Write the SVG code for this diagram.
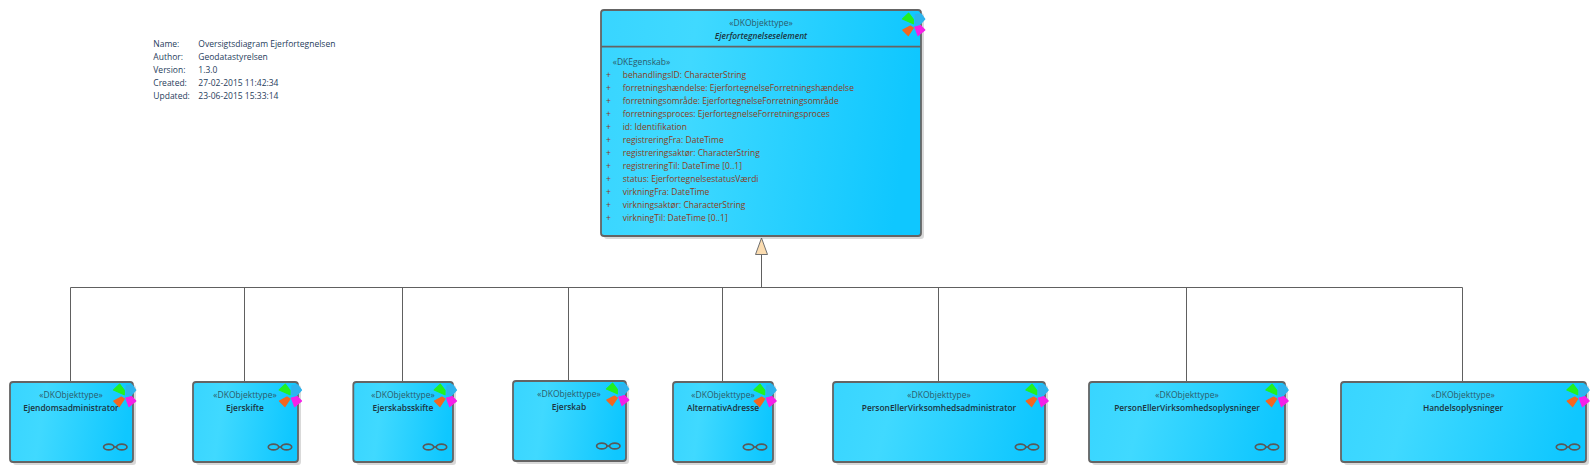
<svg xmlns="http://www.w3.org/2000/svg" width="1596" height="472" viewBox="0 0 1596 472">
<style>
text{font-family:"Open Sans","Liberation Sans",sans-serif;font-size:8.5px}
.box{fill:url(#g);stroke:#646464;stroke-width:1.8}
.sh{fill:#000;fill-opacity:.15}
.div{stroke:#646464;stroke-width:1.8}
.st{fill:#2c5a6a;text-anchor:middle}
.ti{fill:#1c3440;font-weight:600;text-anchor:middle;font-size:8.4px}
.at{fill:#8a3d22}
.ste{fill:#2c5a6a}
.me{fill:#1f3d5c}
.c{fill:none;stroke:#606060;stroke-width:1}
.tri{fill:#fbdcb0;stroke:#707070;stroke-width:1}
.inf{fill:none;stroke:#585858;stroke-width:1.7}
.p{stroke-width:1.2;stroke-linejoin:round}
</style>
<defs>
<linearGradient id="g" x1="0" y1="0" x2="1" y2="0.1"><stop offset="0" stop-color="#38d5ff"/><stop offset=".3" stop-color="#40d9ff"/><stop offset="1" stop-color="#0fc7ff"/></linearGradient>
<g id="ic">
<path class="p" d="M-5.700,-11.800L-11.800,-6L-1,-1.200L-1,-5.700Z" fill="#22f020" stroke="#22f020"/>
<path class="p" d="M1,-10.500L6.700,-11.200L10.500,-6L6,-1L.8,-1.200Z" fill="#2db4ee" stroke="#2db4ee"/>
<path class="p" d="M-4,1L-11.500,5L-6,10.500L-1,3Z" fill="#f4661f" stroke="#f4661f"/>
<path class="p" d="M.5,2L6,.5L10.500,5L3.700,10.500Z" fill="#f620e8" stroke="#f620e8"/>
</g>
<g id="inf"><ellipse cx="-6.500" cy="0" rx="5.200" ry="2.900" class="inf"/><ellipse cx="6.500" cy="0" rx="5.200" ry="2.900" class="inf"/><path class="inf" d="M-1.500 0H1.500"/></g>
</defs>
<g id="header">
<text class="me" x="153.300" y="47">Name:</text><text class="me" x="198.300" y="47">Oversigtsdiagram Ejerfortegnelsen</text>
<text class="me" x="153.300" y="60">Author:</text><text class="me" x="198.300" y="60">Geodatastyrelsen</text>
<text class="me" x="153.300" y="73">Version:</text><text class="me" x="198.300" y="73">1.3.0</text>
<text class="me" x="153.300" y="86">Created:</text><text class="me" x="198.300" y="86">27-02-2015 11:42:34</text>
<text class="me" x="153.300" y="99">Updated:</text><text class="me" x="198.300" y="99">23-06-2015 15:33:14</text>
</g>
<g id="connectors">
<path class="c" d="M70.500 382V287.500H1462.500V382M244.500 287.500V382M402.500 287.500V382M568.500 287.500V381M722.500 287.500V382M938.500 287.500V382M1186.500 287.500V382M761.500 287.500V254"/>
<path class="tri" d="M761.500 238L755.500 254.500H767.500Z"/>
</g>
<g id="n-main">
<rect class="sh" x="604" y="13" width="320" height="226" rx="3"/>
<rect class="box" x="601" y="10" width="320" height="226" rx="3"/>
<path class="div" d="M601 46.700H921"/>
<text class="st" x="761" y="26">«DKObjekttype»</text>
<text class="ti" x="761" y="39" font-style="italic">Ejerfortegnelseselement</text>
<text class="ste" x="612.700" y="65">«DKEgenskab»</text>
<g class="at">
<text x="606" y="78">+</text><text x="622.700" y="78">behandlingsID: CharacterString</text>
<text x="606" y="91">+</text><text x="622.700" y="91">forretningshændelse: EjerfortegnelseForretningshændelse</text>
<text x="606" y="104">+</text><text x="622.700" y="104">forretningsområde: EjerfortegnelseForretningsområde</text>
<text x="606" y="117">+</text><text x="622.700" y="117">forretningsproces: EjerfortegnelseForretningsproces</text>
<text x="606" y="130">+</text><text x="622.700" y="130">id: Identifikation</text>
<text x="606" y="143">+</text><text x="622.700" y="143">registreringFra: DateTime</text>
<text x="606" y="156">+</text><text x="622.700" y="156">registreringsaktør: CharacterString</text>
<text x="606" y="169">+</text><text x="622.700" y="169">registreringTil: DateTime [0..1]</text>
<text x="606" y="182">+</text><text x="622.700" y="182">status: EjerfortegnelsestatusVærdi</text>
<text x="606" y="195">+</text><text x="622.700" y="195">virkningFra: DateTime</text>
<text x="606" y="208">+</text><text x="622.700" y="208">virkningsaktør: CharacterString</text>
<text x="606" y="221">+</text><text x="622.700" y="221">virkningTil: DateTime [0..1]</text>
</g>
<use href="#ic" x="914.300" y="25"/>
</g>
<g id="n-ejendomsadministrator">
<rect class="sh" x="13" y="385" width="123" height="80" rx="3"/><rect class="box" x="10" y="382" width="123" height="80" rx="3"/>
<text class="st" x="71" y="398">«DKObjekttype»</text><text class="ti" x="71" y="411">Ejendomsadministrator</text>
<use href="#ic" x="125.300" y="396"/><use href="#inf" x="115.300" y="447"/>
</g>
<g id="n-ejerskifte">
<rect class="sh" x="196" y="385" width="105" height="80" rx="3"/><rect class="box" x="193" y="382" width="105" height="80" rx="3"/>
<text class="st" x="245" y="398">«DKObjekttype»</text><text class="ti" x="245" y="411">Ejerskifte</text>
<use href="#ic" x="291" y="396"/><use href="#inf" x="280" y="447"/>
</g>
<g id="n-ejerskabsskifte">
<rect class="sh" x="356.300" y="385" width="99.700" height="80" rx="3"/><rect class="box" x="353.300" y="382" width="99.700" height="80" rx="3"/>
<text class="st" x="403" y="398">«DKObjekttype»</text><text class="ti" x="403" y="411">Ejerskabsskifte</text>
<use href="#ic" x="446" y="396"/><use href="#inf" x="435" y="447"/>
</g>
<g id="n-ejerskab">
<rect class="sh" x="516" y="384" width="113" height="80" rx="3"/><rect class="box" x="513" y="381" width="113" height="80" rx="3"/>
<text class="st" x="569" y="397">«DKObjekttype»</text><text class="ti" x="569" y="410">Ejerskab</text>
<use href="#ic" x="618.300" y="395"/><use href="#inf" x="608.300" y="446"/>
</g>
<g id="n-alternativadresse">
<rect class="sh" x="676" y="385" width="100" height="80" rx="3"/><rect class="box" x="673" y="382" width="100" height="80" rx="3"/>
<text class="st" x="723" y="398">«DKObjekttype»</text><text class="ti" x="723" y="411">AlternativAdresse</text>
<use href="#ic" x="765.700" y="396"/><use href="#inf" x="755" y="447"/>
</g>
<g id="n-personellervirksomhedsadministrator">
<rect class="sh" x="836" y="385" width="212" height="80" rx="3"/><rect class="box" x="833" y="382" width="212" height="80" rx="3"/>
<text class="st" x="939" y="398">«DKObjekttype»</text><text class="ti" x="939" y="411">PersonEllerVirksomhedsadministrator</text>
<use href="#ic" x="1037.700" y="396"/><use href="#inf" x="1027" y="447"/>
</g>
<g id="n-personellervirksomhedsoplysninger">
<rect class="sh" x="1092" y="385" width="196" height="80" rx="3"/><rect class="box" x="1089" y="382" width="196" height="80" rx="3"/>
<text class="st" x="1187" y="398">«DKObjekttype»</text><text class="ti" x="1187" y="411">PersonEllerVirksomhedsoplysninger</text>
<use href="#ic" x="1277.700" y="396"/><use href="#inf" x="1267" y="447"/>
</g>
<g id="n-handelsoplysninger">
<rect class="sh" x="1344" y="385" width="245" height="80" rx="3"/><rect class="box" x="1341" y="382" width="245" height="80" rx="3"/>
<text class="st" x="1463" y="398">«DKObjekttype»</text><text class="ti" x="1463" y="411">Handelsoplysninger</text>
<use href="#ic" x="1578.700" y="396"/><use href="#inf" x="1568" y="447"/>
</g>
</svg>
